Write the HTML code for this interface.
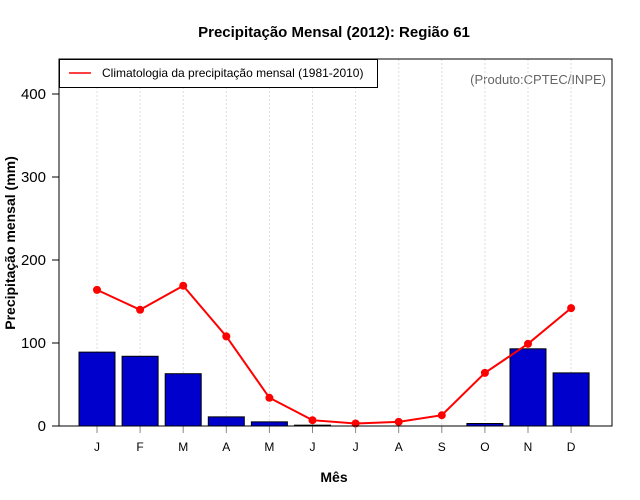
<!DOCTYPE html>
<html><head><meta charset="utf-8"><style>
body{margin:0;background:#fff}
svg{display:block;font-family:"Liberation Sans",sans-serif}
</style></head><body>
<svg id="c" width="640" height="500" viewBox="0 0 640 500">
<text x="334" y="37" text-anchor="middle" font-size="15" font-weight="bold">Precipitação Mensal (2012): Região 61</text>
<text x="334" y="482" text-anchor="middle" font-size="14" font-weight="bold">Mês</text>
<text transform="translate(15,243) rotate(-90)" text-anchor="middle" font-size="14" font-weight="bold">Precipitação mensal (mm)</text>
<text x="606" y="84" text-anchor="end" font-size="13" fill="#666">(Produto:CPTEC/INPE)</text>
<g id="grid"></g><g id="bars"></g><g id="line"></g><g id="axes"></g>
<rect x="59" y="59" width="553" height="367" fill="none" stroke="#000" stroke-width="1"/>
<g>
<rect x="59.5" y="59.5" width="318" height="28" fill="#fff" stroke="#000"/>
<line x1="69" y1="73" x2="91" y2="73" stroke="#f00" stroke-width="1.5"/>
<text x="102" y="77" font-size="12">Climatologia da precipitação mensal (1981-2010)</text>
</g>
</svg>
<script>
const months=["J","F","M","A","M","J","J","A","S","O","N","D"];
const obs=[89,84,63,11,5,1,0,0,0,3,93,64];
const clim=[164,140,169,108,34,7,3,5,13,64,99,142];
const yTicks=[0,100,200,300,400];
const NS="http://www.w3.org/2000/svg";
const xS=i=>97+i*43.1;
const yS=v=>426-v*0.83;
function mk(t,a,p){const e=document.createElementNS(NS,t);for(const k in a)e.setAttribute(k,a[k]);p.appendChild(e);return e;}
const g=document.getElementById('grid'),b=document.getElementById('bars'),l=document.getElementById('line'),ax=document.getElementById('axes');
months.forEach((m,i)=>{
 const gl=mk('line',{x1:xS(i),x2:xS(i),y1:59,y2:426,stroke:'#ddd','stroke-dasharray':'2,2'},g);
 
 
 const r=mk('rect',{x:xS(i)-18,y:yS(obs[i]),width:36,height:Math.max(0,426-yS(obs[i])),fill:'#0000cd',stroke:'#000','stroke-width':1},b);
 
 
 const tk=mk('line',{x1:xS(i),x2:xS(i),y1:426,y2:433,stroke:'#888'},ax);
 
 
 const tx=mk('text',{x:xS(i),y:451,'text-anchor':'middle','font-size':12},ax);tx.textContent=m;
 
 
});
const pl=mk('polyline',{points:clim.map((v,i)=>xS(i)+','+yS(v)).join(' '),fill:'none',stroke:'#f00','stroke-width':2},l);


clim.forEach((v,i)=>{const c=mk('circle',{cx:xS(i),cy:yS(v),r:4,fill:'#f00'},l);
 
 });
yTicks.forEach(v=>{
 const tk=mk('line',{x1:52,x2:59,y1:yS(v),y2:yS(v),stroke:'#000'},ax);
 
 
 const t=mk('text',{x:46,y:yS(v)+5,'text-anchor':'end','font-size':15},ax);t.textContent=v;
 
 
});
</script>
</body></html>
